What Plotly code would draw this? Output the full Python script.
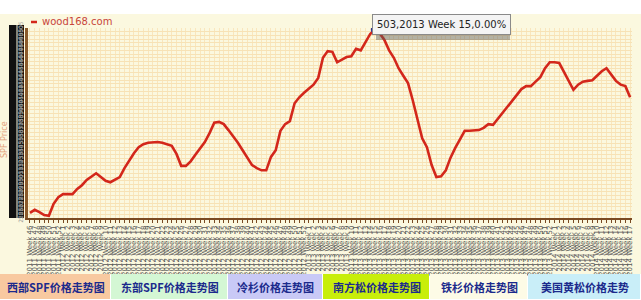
import plotly.graph_objects as go

# ---------------- data ----------------
series_name = "wood168.com"
yaxis_title = "SPF Price"
first_year, first_week, weeks_per_year = 2011, 46, 52

prices = [257, 261, 258, 254, 253, 269, 278, 282, 282, 282,
          289, 294, 301, 306, 310, 305, 300, 298, 302, 305,
          317, 328, 337, 345, 349, 351, 352, 352, 351, 349,
          347, 336, 320, 320, 326, 335, 343, 352, 364, 378,
          379, 376, 368, 360, 351, 341, 331, 321, 317, 314,
          314, 332, 341, 367, 376, 380, 404, 412, 418, 423,
          429, 438, 465, 474, 473, 459, 463, 466, 467, 477,
          475, 486, 497, 503, 498, 489, 475, 465, 451, 441,
          431, 408, 382, 357, 345, 321, 305, 306, 314, 331,
          344, 355, 367, 367, 367, 368, 371, 376, 375, 383,
          391, 399, 407, 416, 423, 427, 427, 433, 439, 451,
          459, 459, 458, 446, 433, 422, 429, 433, 434, 435,
          441, 447, 451, 442, 434, 429, 427, 412]

# week category labels
weeks = []
yr, wk = first_year, first_week
for _ in prices:
    weeks.append(f"{yr} Week {wk}")
    wk += 1
    if wk > weeks_per_year:
        wk = 1
        yr += 1

highlight_week = "2013 Week 15"
highlight_change = "0.00%"

button_labels = ["西部SPF价格走势图", "东部SPF价格走势图", "冷杉价格走势图",
                 "南方松价格走势图", "铁杉价格走势图", "美国黄松价格走势"]

# ---------------- layout helpers (pixel -> paper) ----------------
W, H = 641, 300
PL, PR, PT, PB = 28, 632, 28, 218


def px(x):
    return (x - PL) / (PR - PL)


def py(y):
    return (PB - y) / (PB - PT)


button_edges = [0, 111, 228, 323, 430, 528, 641]
button_colors = ["#f8c9a0", "#d4f7d4", "#c9c9f6", "#c8ee0a", "#fdfbe6", "#c9eef8"]

hi = weeks.index(highlight_week)
hv = prices[hi]

fig = go.Figure()
fig.add_trace(go.Scatter(x=weeks, y=prices, mode="lines", name=series_name,
                         line=dict(color="#d3271b", width=2.6), hoverinfo="skip"))
fig.add_trace(go.Scatter(x=[highlight_week], y=[hv], mode="markers",
                         marker=dict(color="#26309a", size=8), hoverinfo="skip"))

shapes = []
# cream page background
shapes.append(dict(type="rect", xref="paper", yref="paper", layer="below",
                   x0=px(0), x1=px(W), y0=py(14), y1=py(274),
                   fillcolor="#fbf8df", line=dict(width=0)))
# dark y-label strips
shapes.append(dict(type="rect", xref="paper", yref="paper", layer="below",
                   x0=px(9), x1=px(16.5), y0=py(218), y1=py(25),
                   fillcolor="#111111", line=dict(width=0)))
shapes.append(dict(type="rect", xref="paper", yref="paper", layer="below",
                   x0=px(17.5), x1=px(24), y0=py(218), y1=py(25),
                   fillcolor="#111111", line=dict(width=0)))
# legend dash
shapes.append(dict(type="line", xref="paper", yref="paper",
                   x0=px(31), x1=px(37), y0=py(22), y1=py(22),
                   line=dict(color="#d3271b", width=2.5)))
# tooltip shadow
shapes.append(dict(type="rect", xref="paper", yref="paper",
                   x0=px(376), x1=px(510), y0=py(40), y1=py(17),
                   fillcolor="rgba(90,90,90,0.45)", line=dict(width=0)))

annotations = []
annotations.append(dict(text=series_name, xref="paper", yref="paper",
                        x=px(40), y=py(22), xanchor="left", yanchor="middle",
                        showarrow=False, font=dict(family="DejaVu Sans", size=10, color="#c8463a")))
annotations.append(dict(text=yaxis_title, xref="paper", yref="paper",
                        x=px(4), y=py(140), xanchor="center", yanchor="middle",
                        textangle=-90, showarrow=False,
                        font=dict(family="DejaVu Sans", size=8, color="#e3a27a")))
tip = f"{hv},{highlight_week},{highlight_change}"
annotations.append(dict(text=tip, x=highlight_week, y=hv, xref="x", yref="y",
                        xanchor="left", yanchor="middle", xshift=-3, yshift=5,
                        showarrow=False, bgcolor="#f4f4f4", bordercolor="#8a8a8a",
                        borderwidth=1, borderpad=4,
                        font=dict(family="DejaVu Sans", size=10, color="#222222")))

for i, lab in enumerate(button_labels):
    x0, x1 = button_edges[i], button_edges[i + 1]
    shapes.append(dict(type="rect", xref="paper", yref="paper",
                       x0=px(x0), x1=px(x1 - 1), y0=py(299), y1=py(274),
                       fillcolor=button_colors[i], line=dict(width=0)))
    annotations.append(dict(text=f"<b>{lab}</b>", xref="paper", yref="paper",
                            x=px((x0 + x1) / 2), y=py(287), xanchor="center", yanchor="middle",
                            showarrow=False,
                            font=dict(family="Noto Sans CJK SC", size=11, color="#1b2a8c")))

fig.update_layout(
    width=W, height=H,
    margin=dict(l=PL, r=W - PR, t=PT, b=H - PB, pad=0),
    paper_bgcolor="white", plot_bgcolor="#fcecc5",
    showlegend=False,
    shapes=shapes, annotations=annotations,
    xaxis=dict(type="category", range=[-0.42, 127.4], tickmode="array",
               tickvals=weeks, ticktext=weeks, tickangle=-90,
               tickfont=dict(family="DejaVu Sans", size=7, color="#555555"),
               ticks="outside", ticklen=3, tickcolor="#7a4a22",
               showline=True, linecolor="#7a4a22", linewidth=1.5,
               showgrid=True, gridcolor="#f9e6bd", gridwidth=1,
               zeroline=False, automargin=False, fixedrange=True),
    yaxis=dict(range=[250, 505], dtick=5, tick0=250,
               showticklabels=True, tickangle=-90,
               tickfont=dict(family="DejaVu Sans", size=6, color="#9a9a9a"),
               ticks="", showline=True, linecolor="#8b5a2b", linewidth=3,
               showgrid=True, gridcolor="#f7e2b5", gridwidth=1,
               zeroline=False, automargin=False, fixedrange=True),
)

fig.write_html("out.html")
